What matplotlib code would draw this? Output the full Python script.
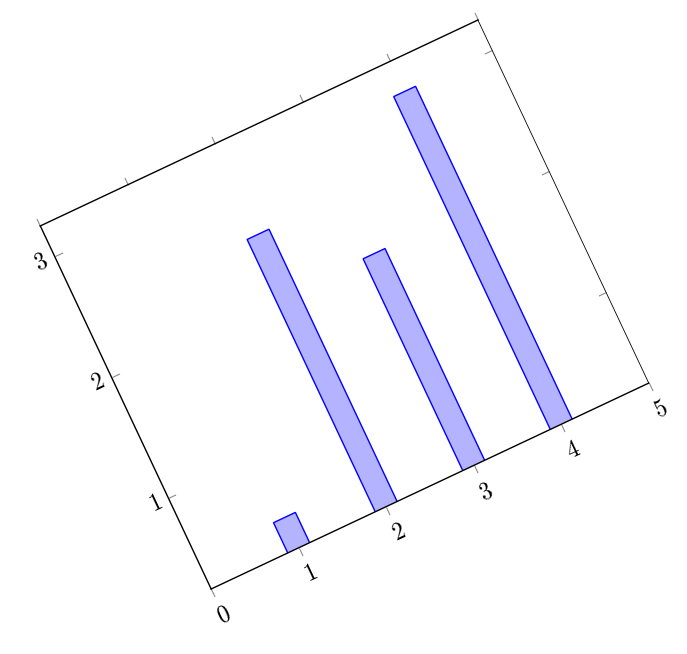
import numpy as np
import matplotlib
matplotlib.use("Agg")
import matplotlib.pyplot as plt
from matplotlib.transforms import Affine2D
import mpl_toolkits.axisartist.floating_axes as floating_axes
from mpl_toolkits.axisartist.grid_finder import FixedLocator

# data
x = [1, 2, 3, 4]
y = [0.5, 2.5, 2.0, 3.0]
xticks = [0, 1, 2, 3, 4, 5]
yticks = [1, 2, 3]

plt.rcParams['font.family'] = 'serif'
plt.rcParams['font.serif'] = ['cmr10']
plt.rcParams['axes.unicode_minus'] = False

fig = plt.figure(figsize=(6.87, 6.54), dpi=100)

# rotated frame: x unit ~97px, y unit ~134px, turned 25.2 deg
tr = Affine2D().scale(96.9, 134.0).rotate_deg(25.2)
gh = floating_axes.GridHelperCurveLinear(
    tr, extremes=(0, 5, 0.25, 3.25),
    grid_locator1=FixedLocator(xticks),
    grid_locator2=FixedLocator(yticks))
ax = fig.add_axes([0.0494, 0.0907, 0.9042, 0.8874],
                  axes_class=floating_axes.FloatingAxes, grid_helper=gh)

aux = ax.get_aux_axes(tr)
aux.patch = ax.patch
ax.patch.zorder = 0.9

aux.bar(x, y, width=0.25, color='#b3b3ff', edgecolor='blue', linewidth=1.0)

for k in ['left', 'right', 'bottom', 'top']:
    a = ax.axis[k]
    a.line.set_linewidth(1.0)
    a.major_ticks.set_ticksize(6)
    a.major_ticks.set_color('0.55')
    a.major_ticks.set_linewidth(0.6)
    a.major_ticklabels.set_size(17)
    a.major_ticklabels.set_pad(6)
ax.axis['right'].line.set_linewidth(0.6)
ax.axis['bottom'].major_ticks.set_tick_out(True)
ax.axis['top'].major_ticks.set_tick_out(True)

fig.savefig('out.png', dpi=100)
